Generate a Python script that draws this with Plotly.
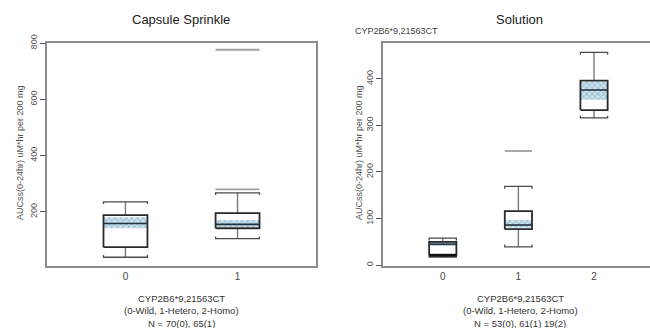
import plotly.graph_objects as go

# ---------------- data ----------------
# Capsule Sprinkle
cs_groups = [0, 1]
cs_whi = [236, 268]
cs_q3 = [189, 196]
cs_med = [159, 156]
cs_q1 = [75, 142]
cs_wlo = [39, 105]
cs_cihi = [181, 171]
cs_cilo = [142, 145]
cs_extra_x = [1, 1]
cs_extra_y = [776, 280]

# Solution
so_groups = [0, 1, 2]
so_whi = [58, 169, 457]
so_q3 = [50, 116, 396]
so_med = [45, 86, 376]
so_q1 = [21, 77, 333]
so_wlo = [17, 39, 316]
so_cihi = [50, 97, 394]
so_cilo = [41, 80, 355]
so_extra_x = [1]
so_extra_y = [245]

y_title = "AUCss(0-24hr) uM*hr per 200 mg"

FONT = "Liberation Sans, Arial, sans-serif"
BOXC = "#2a2a2a"
STEMC = "#7a7a7a"
CAPC = "#4a4a4a"
AXC = "#8c8c8c"

fig = go.Figure()


def add_panel(xa, ya, groups, whi, q3, med, q1, wlo, cihi, cilo, ex_x, ex_y, hw, tick):
    # hatched confidence bands
    for g, hi, lo in zip(groups, cihi, cilo):
        fig.add_trace(go.Scatter(
            x=[g - hw, g + hw, g + hw, g - hw, g - hw],
            y=[lo, lo, hi, hi, lo],
            mode="lines", line=dict(width=0), fill="toself",
            fillcolor="#c9dfec",
            fillpattern=dict(shape="x", fgcolor="#5f97bb", bgcolor="#d2e5f0",
                             size=4, solidity=0.45),
            xaxis=xa, yaxis=ya, hoverinfo="skip", showlegend=False))
    # stems
    sx, sy = [], []
    for g, a, b, c, d in zip(groups, whi, q3, q1, wlo):
        sx += [g, g, None, g, g, None]
        sy += [a, b, None, c, d, None]
    fig.add_trace(go.Scatter(x=sx, y=sy, mode="lines",
                             line=dict(color=STEMC, width=1.4),
                             xaxis=xa, yaxis=ya, hoverinfo="skip", showlegend=False))
    # caps (brackets)
    cx, cy = [], []
    for g, a, d in zip(groups, whi, wlo):
        cx += [g - hw, g - hw, g + hw, g + hw, None]
        cy += [a - tick, a, a, a - tick, None]
        cx += [g - hw, g - hw, g + hw, g + hw, None]
        cy += [d + tick, d, d, d + tick, None]
    fig.add_trace(go.Scatter(x=cx, y=cy, mode="lines",
                             line=dict(color=CAPC, width=1.3),
                             xaxis=xa, yaxis=ya, hoverinfo="skip", showlegend=False))
    # boxes
    bx, by = [], []
    for g, b, c in zip(groups, q3, q1):
        bx += [g - hw, g + hw, g + hw, g - hw, g - hw, None]
        by += [c, c, b, b, c, None]
    fig.add_trace(go.Scatter(x=bx, y=by, mode="lines",
                             line=dict(color=BOXC, width=1.8),
                             xaxis=xa, yaxis=ya, hoverinfo="skip", showlegend=False))
    # medians
    mx, my = [], []
    for g, m in zip(groups, med):
        mx += [g - hw, g + hw, None]
        my += [m, m, None]
    fig.add_trace(go.Scatter(x=mx, y=my, mode="lines",
                             line=dict(color="#23323f", width=1.6),
                             xaxis=xa, yaxis=ya, hoverinfo="skip", showlegend=False))
    # extra grey lines
    ex, ey = [], []
    for g, v in zip(ex_x, ex_y):
        ex += [g - hw, g + hw, None]
        ey += [v, v, None]
    fig.add_trace(go.Scatter(x=ex, y=ey, mode="lines",
                             line=dict(color="#a0a0a0", width=1.8),
                             xaxis=xa, yaxis=ya, hoverinfo="skip", showlegend=False))


add_panel("x", "y", cs_groups, cs_whi, cs_q3, cs_med, cs_q1, cs_wlo,
          cs_cihi, cs_cilo, cs_extra_x, cs_extra_y, 0.196, 8)
add_panel("x2", "y2", so_groups, so_whi, so_q3, so_med, so_q1, so_wlo,
          so_cihi, so_cilo, so_extra_x, so_extra_y, 0.18, 5)

# thick dark lower edge of Solution group 0
fig.add_trace(go.Scatter(x=[so_groups[0] - 0.18, so_groups[0] + 0.18], y=[so_q1[0], so_q1[0]],
                         mode="lines", line=dict(color="#111111", width=3),
                         xaxis="x2", yaxis="y2", hoverinfo="skip", showlegend=False))

W, H = 650, 328
ydom = [(H - 266) / H, (H - 43) / H]
tickfont = dict(family=FONT, size=9, color="#555555")

fig.update_layout(
    width=W, height=H, margin=dict(l=0, r=0, t=0, b=0),
    paper_bgcolor="white", plot_bgcolor="white", showlegend=False,
    font=dict(family=FONT),
    xaxis=dict(domain=[47 / W, 316 / W], range=[-0.7, 1.7], tickvals=[0, 1],
               ticktext=["0", "1"], showgrid=False, zeroline=False,
               showline=True, mirror=True, linecolor=AXC, linewidth=1.5,
               ticks="", tickfont=dict(family=FONT, size=10, color="#444444"),
               automargin=False, fixedrange=True),
    yaxis=dict(domain=ydom, range=[8, 800], tickvals=[200, 400, 600, 800],
               showgrid=False, zeroline=False, showline=True, mirror=True,
               linecolor=AXC, linewidth=1.5, ticks="outside", ticklen=5,
               tickcolor="#555555", tickangle=-90, tickfont=tickfont,
               automargin=False),
    xaxis2=dict(domain=[383 / W, 1.0], range=[-0.79, 2.74], tickvals=[0, 1, 2],
                ticktext=["0", "1", "2"], showgrid=False, zeroline=False,
                showline=True, mirror=True, linecolor=AXC, linewidth=1.5,
                ticks="", tickfont=dict(family=FONT, size=10, color="#444444"),
                automargin=False, anchor="y2"),
    yaxis2=dict(domain=ydom, range=[-2, 477], tickvals=[0, 100, 200, 300, 400],
                showgrid=False, zeroline=False, showline=True, mirror=False,
                linecolor=AXC, linewidth=1.5, ticks="outside", ticklen=5,
                tickcolor="#555555", tickangle=-90, tickfont=tickfont,
                automargin=False, anchor="x2"),
)

ann = []


def px_ann(text, x, y, size, color="#333333", angle=0):
    ann.append(dict(text=text, x=x / W, y=1 - y / H, xref="paper", yref="paper",
                    showarrow=False, xanchor="center", yanchor="middle",
                    textangle=angle, font=dict(family=FONT, size=size, color=color)))


px_ann("Capsule Sprinkle", 181, 19, 13, "#222222")
px_ann("Solution", 519, 19, 13, "#222222")
px_ann("CYP2B6*9,21563CT", 396, 31, 9, "#444444")
px_ann(y_title, 20, 153, 9, "#555555", -90)
px_ann(y_title, 359, 153, 9, "#555555", -90)

cs_xlab = ["CYP2B6*9,21563CT", "(0-Wild, 1-Hetero, 2-Homo)", "N = 70(0), 65(1)"]
so_xlab = ["CYP2B6*9,21563CT", "(0-Wild, 1-Hetero, 2-Homo)", "N = 53(0), 61(1) 19(2)"]
for i, (a, b) in enumerate(zip(cs_xlab, so_xlab)):
    yy = [298, 310, 323][i]
    px_ann(a, 181, yy, 9.5)
    px_ann(b, 520, yy, 9.5)

fig.update_layout(annotations=ann)
fig.write_html("out.html")
